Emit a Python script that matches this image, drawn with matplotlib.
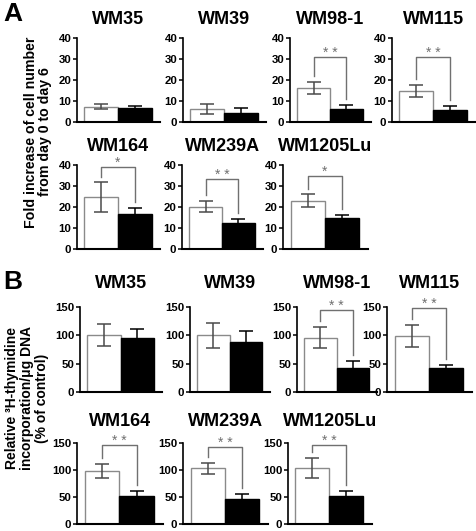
import matplotlib
matplotlib.use("Agg")
import matplotlib.pyplot as plt

plt.rcParams['font.family'] = ['Liberation Sans', 'DejaVu Sans']
plt.rcParams['font.weight'] = 'bold'

# cell lines, row by row
lines_top = ["WM35", "WM39", "WM98-1", "WM115"]
lines_bottom = ["WM164", "WM239A", "WM1205Lu"]
cell_lines = lines_top + lines_bottom

# A: fold increase of cell number (control = white, treated = black)
fold_ctrl = [7.2, 6.0, 16.3, 14.7, 24.6, 20.2, 23.0]
fold_ctrl_err = [1.2, 2.4, 2.8, 2.8, 7.1, 2.8, 3.0]
fold_treat = [6.8, 4.5, 6.3, 5.8, 16.6, 12.2, 14.8]
fold_treat_err = [0.8, 2.3, 1.9, 1.7, 3.0, 2.1, 1.6]
fold_sig = ["", "", "* *", "* *", "*", "* *", "*"]
fold_bracket = [None, None, 31, 31, 39, 33.5, 35]

# B: relative 3H-thymidine incorporation (% of control)
thy_ctrl = [101, 100, 96, 99, 99, 103, 104]
thy_ctrl_err = [19, 22, 19, 19, 13, 10, 19]
thy_treat = [95, 89, 43, 42, 51, 46, 51]
thy_treat_err = [16, 18, 11, 5, 10, 10, 11]
thy_sig = ["", "", "* *", "* *", "* *", "* *", "* *"]
thy_bracket = [None, None, 145, 148, 146, 142, 147]

W, H = 477, 531

# axes boxes in pixels: (left, right, top, bottom)
boxes_a = [(77, 160, 38, 122), (183, 266, 38, 122), (290, 371, 38, 122), (392, 475, 38, 122),
           (77, 160, 165, 249), (182, 263, 165, 249), (283, 368, 165, 249)]
boxes_b = [(80, 162, 307, 392), (190, 270, 307, 392), (297, 377, 307, 392), (387, 472, 307, 392),
           (77, 163, 443, 524), (183, 268, 443, 524), (288, 372, 443, 524)]
pads_a = [10, 10, 10, 10, 10, 10, 10]
pads_b = [14, 14, 14, 14, 12, 12, 12]


def px_axes(fig, box):
    left, right, top, bottom = box
    return fig.add_axes([left / W, 1 - bottom / H, (right - left) / W, (bottom - top) / H])


def draw_panel(ax, name, ctrl, ctrl_err, treat, treat_err, sig, bracket, ymax, yticks, pad):
    ax.bar(0, ctrl, width=1, color='white', edgecolor='#8a8a8a', linewidth=1, zorder=2)
    ax.bar(1, treat, width=1, color='black', edgecolor='black', linewidth=1, zorder=2)
    ax.errorbar(0, ctrl, yerr=ctrl_err, color='#4a4a4a', capsize=5, elinewidth=1.1,
                capthick=1.1, zorder=3)
    ax.errorbar(1, treat, yerr=treat_err, color='black', capsize=5, elinewidth=1.1,
                capthick=1.1, zorder=1)

    if sig:
        gap = 0.07 * ymax
        left_end = ctrl + ctrl_err + gap
        right_end = treat + treat_err + gap
        ax.plot([0, 0, 1, 1], [left_end, bracket, bracket, right_end], color='#707070',
                lw=1, clip_on=False)
        # asterisk sits high in its glyph box, so baseline on the bracket is enough
        ax.text(0.5, bracket, sig, ha='center', va='baseline', fontsize=10,
                color='#707070', fontweight='normal')

    ax.set_xlim(-0.72, 1.75)
    ax.set_ylim(0, ymax)
    ax.set_yticks(yticks)
    ax.set_xticks([])
    ax.spines['top'].set_visible(False)
    ax.spines['right'].set_visible(False)
    ax.spines['left'].set_linewidth(1.2)
    ax.spines['bottom'].set_linewidth(1.5)
    ax.tick_params(axis='y', direction='out', length=3, width=1.1, labelsize=8.2, pad=1)
    ax.set_title(name, fontsize=13, fontweight='bold', pad=pad)


def main():
    fig = plt.figure(figsize=(W / 100, H / 100), dpi=100)

    for i, name in enumerate(cell_lines):
        ax = px_axes(fig, boxes_a[i])
        draw_panel(ax, name, fold_ctrl[i], fold_ctrl_err[i], fold_treat[i], fold_treat_err[i],
                   fold_sig[i], fold_bracket[i], 40, [0, 10, 20, 30, 40], pads_a[i])

    for i, name in enumerate(cell_lines):
        ax = px_axes(fig, boxes_b[i])
        draw_panel(ax, name, thy_ctrl[i], thy_ctrl_err[i], thy_treat[i], thy_treat_err[i],
                   thy_sig[i], thy_bracket[i], 150, [0, 50, 100, 150], pads_b[i])

    fig.text(3 / W, 1 - 2 / H, "A", fontsize=19, fontweight='bold', va='top', ha='left')
    fig.text(3 / W, 1 - 270 / H, "B", fontsize=19, fontweight='bold', va='top', ha='left')

    fig.text(38 / W, 1 - 132 / H, "Fold increase of cell number\nfrom day 0 to day 6",
             rotation=90, ha='center', va='center', multialignment='center',
             fontsize=10.2, fontweight='bold', linespacing=1.0)
    fig.text(27 / W, 1 - 398 / H,
             "Relative \u00b3H-thymidine\nincorporation/\u03bcg DNA\n(% of control)",
             rotation=90, ha='center', va='center', multialignment='center',
             fontsize=10, fontweight='bold', linespacing=1.05)

    fig.savefig("out.png", dpi=100)


if __name__ == "__main__":
    main()
